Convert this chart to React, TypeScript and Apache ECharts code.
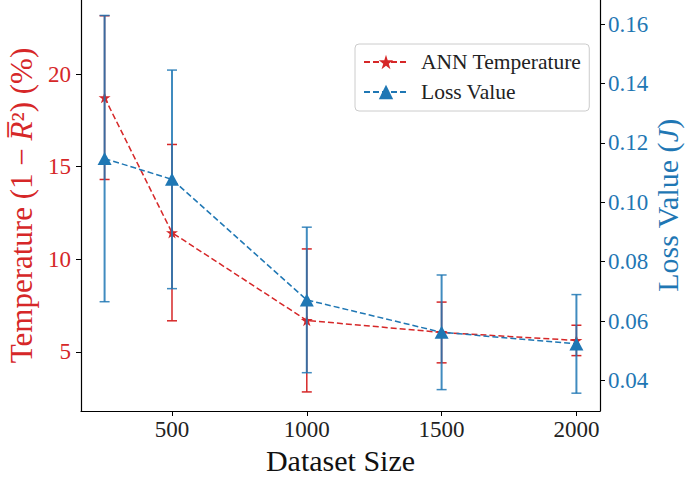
import React, { useEffect, useRef } from "react";
import * as echarts from "echarts";

const datasetSizes = [250, 500, 1000, 1500, 2000];
const tempMean = [18.73, 11.44, 6.7, 6.05, 5.62];
const tempErr = [4.42, 4.76, 3.86, 1.64, 0.82];
const lossMean = [0.1147, 0.1077, 0.0671, 0.0562, 0.0523];
const lossErr = [0.0482, 0.0368, 0.0245, 0.0193, 0.0166];
const xTicks = [500, 1000, 1500, 2000];
const tempTicks = [5, 10, 15, 20];
const lossTicks = [0.04, 0.06, 0.08, 0.1, 0.12, 0.14, 0.16];

const RED = "#d62728";
const BLUE = "#1f77b4";
const FONT = "Liberation Serif";
const STAR =
  "path://M100,0L122.45,69.1L195.1,69.1L136.33,111.8L158.78,180.9L100,138.2L41.22,180.9L63.67,111.8L4.9,69.1L77.55,69.1Z";

function errorRender(color: string, width: number, opacity: number) {
  return (params: any, api: any) => {
    const x = api.value(0);
    const lo = api.coord([x, api.value(1)]);
    const hi = api.coord([x, api.value(2)]);
    const cap = 5;
    const style = { stroke: color, lineWidth: width, opacity };
    return {
      type: "group",
      children: [
        { type: "line", shape: { x1: lo[0], y1: lo[1], x2: hi[0], y2: hi[1] }, style },
        { type: "line", shape: { x1: lo[0] - cap, y1: lo[1], x2: lo[0] + cap, y2: lo[1] }, style: { ...style, lineWidth: 1.5 } },
        { type: "line", shape: { x1: hi[0] - cap, y1: hi[1], x2: hi[0] + cap, y2: hi[1] }, style: { ...style, lineWidth: 1.5 } },
      ],
    };
  };
}

export default function App() {
  const ref = useRef<HTMLDivElement>(null);
  useEffect(() => {
    if (!ref.current) return;
    const chart = echarts.init(ref.current, undefined, { renderer: "svg" });
    const tempErrData = datasetSizes.map((x, i) => [x, tempMean[i] - tempErr[i], tempMean[i] + tempErr[i]]);
    const lossErrData = datasetSizes.map((x, i) => [x, lossMean[i] - lossErr[i], lossMean[i] + lossErr[i]]);
    const axisLine = { show: true, lineStyle: { color: "#000", width: 1.2 } };
    const axisTick = (vals: number[]) => ({
      show: true,
      length: 5,
      lineStyle: { color: "#000", width: 1 },
      customValues: vals,
    });
    chart.setOption({
      animation: false,
      backgroundColor: "#fff",
      grid: { left: 81, right: 85, top: 0, bottom: 66, containLabel: false, outerBoundsMode: "none" },
      legend: {
        orient: "vertical",
        left: 355,
        top: 44,
        padding: [7, 8, 8, 8],
        itemWidth: 44,
        itemHeight: 18,
        itemGap: 8,
        backgroundColor: "rgba(255,255,255,0.8)",
        borderColor: "#cccccc",
        borderWidth: 1,
        borderRadius: 4,
        textStyle: { fontFamily: FONT, fontSize: 21.5, color: "#222", lineHeight: 21, padding: [0, 0, 0, 8] },
        data: ["ANN Temperature", "Loss Value"],
      },
      xAxis: {
        type: "value",
        min: 162.5,
        max: 2087.5,
        name: "Dataset Size",
        nameLocation: "middle",
        nameGap: 27,
        nameTextStyle: { fontFamily: FONT, fontSize: 30, color: "#111" },
        axisLine,
        axisTick: axisTick(xTicks),
        splitLine: { show: false },
        axisLabel: {
          customValues: xTicks,
          fontFamily: FONT,
          fontSize: 23,
          color: "#222",
          margin: 7,
          formatter: (v: number) => String(v),
        },
      },
      yAxis: [
        {
          type: "value",
          min: 1.81,
          max: 24.0,
          position: "left",
          name: "{n|Temperature (1 − }{i|R̅}{n|²) (%)}",
          nameLocation: "middle",
          nameRotate: 90,
          nameGap: 44,
          nameTextStyle: {
            rich: {
              n: { fontFamily: FONT, fontSize: 31, color: RED },
              i: { fontFamily: FONT, fontSize: 31, color: RED, fontStyle: "italic" },
            },
          },
          axisLine,
          axisTick: axisTick(tempTicks),
          splitLine: { show: false },
          axisLabel: {
            customValues: tempTicks,
            fontFamily: FONT,
            fontSize: 23,
            color: RED,
            margin: 10,
            formatter: (v: number) => String(v),
          },
        },
        {
          type: "value",
          min: 0.0297,
          max: 0.1681,
          position: "right",
          name: "{n|Loss Value (}{i|J}{n|)}",
          nameLocation: "middle",
          nameRotate: 90,
          nameGap: 52,
          nameMoveOverlap: false,
          nameTextStyle: {
            rich: {
              n: { fontFamily: FONT, fontSize: 30, color: BLUE },
              i: { fontFamily: FONT, fontSize: 30, color: BLUE, fontStyle: "italic" },
            },
          },
          axisLine,
          axisTick: axisTick(lossTicks),
          splitLine: { show: false },
          axisLabel: {
            customValues: lossTicks,
            fontFamily: FONT,
            fontSize: 23,
            color: BLUE,
            margin: 8,
            formatter: (v: number) => v.toFixed(2),
          },
        },
      ],
      series: [
        {
          name: "ANN Temperature err",
          type: "custom",
          yAxisIndex: 0,
          z: 2,
          renderItem: errorRender(RED, 1.5, 1),
          data: tempErrData,
        },
        {
          name: "ANN Temperature",
          type: "line",
          yAxisIndex: 0,
          z: 3,
          data: datasetSizes.map((x, i) => [x, tempMean[i]]),
          symbol: STAR,
          symbolSize: [12, 11.5],
          itemStyle: { color: RED },
          lineStyle: { color: RED, width: 1.5, type: [6, 3] },
        },
        {
          name: "Loss Value err",
          type: "custom",
          yAxisIndex: 1,
          z: 4,
          renderItem: errorRender(BLUE, 2, 0.85),
          data: lossErrData,
        },
        {
          name: "Loss Value",
          type: "line",
          yAxisIndex: 1,
          z: 5,
          data: datasetSizes.map((x, i) => [x, lossMean[i]]),
          symbol: "triangle",
          symbolSize: [14, 13],
          itemStyle: { color: BLUE },
          lineStyle: { color: BLUE, width: 1.5, type: [6, 3] },
        },
      ],
    });
    return () => chart.dispose();
  }, []);
  return <div ref={ref} style={{ width: 685, height: 477, position: "absolute", left: 0, top: 0 }} />;
}
